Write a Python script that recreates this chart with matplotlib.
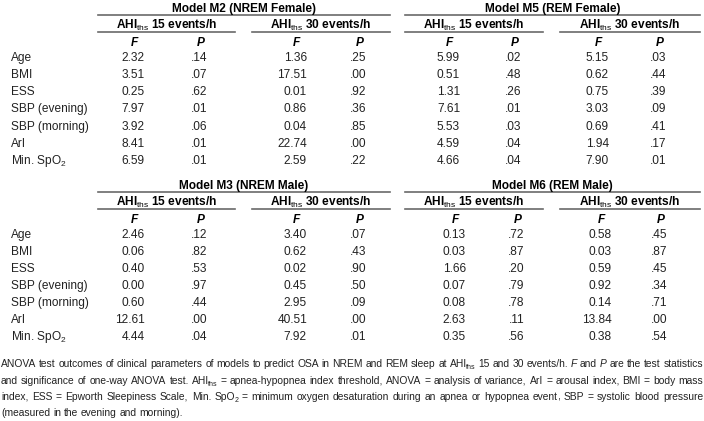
import matplotlib
matplotlib.use('Agg')
import matplotlib.pyplot as plt
from matplotlib import font_manager

# fuente estrecha si existe, si no la normal
names = {f.name for f in font_manager.fontManager.ttflist}
FONT = 'Liberation Sans Narrow' if 'Liberation Sans Narrow' in names else 'Liberation Sans'
plt.rcParams['font.family'] = [FONT, 'DejaVu Sans']
plt.rcParams['mathtext.fontset'] = 'custom'
plt.rcParams['mathtext.rm'] = FONT
plt.rcParams['mathtext.it'] = FONT + ':italic'
plt.rcParams['mathtext.bf'] = FONT + ':bold'

# Datos de la tabla
params = ['Age', 'BMI', 'ESS', 'SBP (evening)', 'SBP (morning)', 'ArI',
          r'Min. SpO$_{\mathrm{2}}$']
groups = [r'AHI$_{\mathrm{ths}}$ 15 events/h', r'AHI$_{\mathrm{ths}}$ 30 events/h']
titles = ['Model M2 (NREM Female)', 'Model M5 (REM Female)',
          'Model M3 (NREM Male)', 'Model M6 (REM Male)']

m2_f15 = [2.32, 3.51, 0.25, 7.97, 3.92, 8.41, 6.59]
m2_p15 = [.14, .07, .62, .01, .06, .01, .01]
m2_f30 = [1.36, 17.51, 0.01, 0.86, 0.04, 22.74, 2.59]
m2_p30 = [.25, .00, .92, .36, .85, .00, .22]

m5_f15 = [5.99, 0.51, 1.31, 7.61, 5.53, 4.59, 4.66]
m5_p15 = [.02, .48, .26, .01, .03, .04, .04]
m5_f30 = [5.15, 0.62, 0.75, 3.03, 0.69, 1.94, 7.90]
m5_p30 = [.03, .44, .39, .09, .41, .17, .01]

m3_f15 = [2.46, 0.06, 0.40, 0.00, 0.60, 12.61, 4.44]
m3_p15 = [.12, .82, .53, .97, .44, .00, .04]
m3_f30 = [3.40, 0.62, 0.02, 0.45, 2.95, 40.51, 7.92]
m3_p30 = [.07, .43, .90, .50, .09, .00, .01]

m6_f15 = [0.13, 0.03, 1.66, 0.07, 0.08, 2.63, 0.35]
m6_p15 = [.72, .87, .20, .79, .78, .11, .56]
m6_f30 = [0.58, 0.03, 0.59, 0.92, 0.14, 13.84, 0.38]
m6_p30 = [.45, .87, .45, .34, .71, .00, .54]

# '*' = cursiva, '_' = subindice
caption = [
    'ANOVA test outcomes of clinical parameters of models to predict OSA in NREM and REM sleep at '
    'AHI_ths 15 and 30 events/h. *F and *P are the test statistics',
    'and significance of one-way ANOVA test. AHI_ths = apnea-hypopnea index threshold, '
    'ANOVA = analysis of variance, ArI = arousal index, BMI = body mass',
    'index, ESS = Epworth Sleepiness Scale, Min. SpO_2 = minimum oxygen desaturation '
    'during an apnea or hypopnea event, SBP = systolic blood pressure',
    '(measured in the evening and morning).',
]

FS = 8.6
TXT = '#222222'
LINE = '#6a6a6a'
CAP = 0.716 * FS * 100 / 72 / 2   # media altura de mayusculas en px

fig = plt.figure(figsize=(7.04, 4.21), dpi=100)
ax = fig.add_axes([0, 0, 1, 1])
ax.set_xlim(0, 704)
ax.set_ylim(421, 0)
ax.axis('off')


def fmt_f(v):
    return f'{v:.2f}'


def fmt_p(v):
    return f'{v:.2f}'[1:]


def modelo(title, x0, x1, xg, rights, cols, ytop, step):
    # titulo y linea
    ax.text((x0 + x1) / 2, ytop + CAP, title, ha='center', va='baseline',
            fontsize=FS, fontweight='bold', color='black')
    ax.plot([x0, x1], [ytop + 7, ytop + 7], color=LINE, lw=1.2)
    spans = [(x0, xg[0]), (xg[1], x1)]
    for g, (a, b) in zip(groups, spans):
        ax.text((a + b) / 2, ytop + 17 + CAP, g, ha='center', va='baseline',
                fontsize=FS, fontweight='bold', color='black')
        ax.plot([a, b], [ytop + 24, ytop + 24], color=LINE, lw=1.2)
    for k, r in enumerate(rights):
        lab = 'F' if k % 2 == 0 else 'P'
        off = 11 if k % 2 == 0 else 6
        ax.text(r - off, ytop + 34 + CAP, lab, ha='center', va='baseline',
                fontsize=FS, fontweight='bold', fontstyle='italic', color='black')
    for i, p in enumerate(params):
        y = ytop + 49 + step * i + CAP
        if x0 < 200:
            ax.text(11, y, p, ha='left', va='baseline', fontsize=FS, color=TXT)
        for k, (r, vals) in enumerate(zip(rights, cols)):
            s = fmt_f(vals[i]) if k % 2 == 0 else fmt_p(vals[i])
            ax.text(r, y, s, ha='right', va='baseline', fontsize=FS, color=TXT)


modelo(titles[0], 98, 390, (235, 252), [145, 207, 307, 366],
       [m2_f15, m2_p15, m2_f30, m2_p30], 7.5, 17.2)
modelo(titles[1], 405, 700, (543, 560), [460, 521, 609, 666],
       [m5_f15, m5_p15, m5_f30, m5_p30], 7.5, 17.2)
modelo(titles[2], 98, 390, (235, 252), [145, 207, 307, 366],
       [m3_f15, m3_p15, m3_f30, m3_p30], 185, 17.0)
modelo(titles[3], 405, 700, (543, 560), [466, 524, 612, 667],
       [m6_f15, m6_p15, m6_f30, m6_p30], 185, 17.0)

# Pie de tabla justificado, palabra por palabra
renderer = fig.canvas.get_renderer()
cap_y = [363, 380, 396, 412]
X0, X1 = 1, 703


def ancho(t):
    return t.get_window_extent(renderer).width


def palabra(w, y, fs):
    # devuelve ([(texto, desplazamiento x)], ancho total)
    style = 'normal'
    if w.startswith('*'):
        w = w[1:]
        style = 'italic'
    kw = dict(ha='left', va='baseline', color=TXT, fontstyle=style)
    if '_' in w:
        base, sub = w.split('_')
        t1 = ax.text(0, y, base, fontsize=fs, **kw)
        t2 = ax.text(0, y + fs * 100 / 72 * 0.2, sub, fontsize=fs * 0.68, **kw)
        w1 = ancho(t1) - 0.8
        return [(t1, 0), (t2, w1)], w1 + ancho(t2)
    if w == 'event,':
        # esta palabra sale desplazada si se dibuja entera
        t1 = ax.text(0, y, w[:-1], fontsize=fs, **kw)
        t2 = ax.text(0, y, w[-1], fontsize=fs, **kw)
        w1 = ancho(t1)
        return [(t1, 0), (t2, w1)], w1 + ancho(t2)
    t1 = ax.text(0, y, w, fontsize=fs, **kw)
    return [(t1, 0)], ancho(t1)


def linea(line, y, fs):
    return [palabra(w, y, fs) for w in line.split(' ')]


sp = 0.278 * FS * 100 / 72
scale = 1.0
for line in caption[:-1]:
    ws = linea(line, 0, FS)
    total = sum(wd for _, wd in ws)
    scale = min(scale, (X1 - X0) / (total + sp * (len(ws) - 1)))
    for pz, _ in ws:
        for t, _ in pz:
            t.remove()
cfs = FS * scale

for n, (line, y) in enumerate(zip(caption, cap_y)):
    ws = linea(line, y + CAP * scale, cfs)
    widths = [wd for _, wd in ws]
    if n < len(caption) - 1:
        gap = (X1 - X0 - sum(widths)) / (len(ws) - 1)
    else:
        gap = sp * scale
    x = X0
    for (pz, w) in ws:
        for t, off in pz:
            t.set_x(x + off)
        x += w + gap

fig.savefig('out.png', dpi=100)
